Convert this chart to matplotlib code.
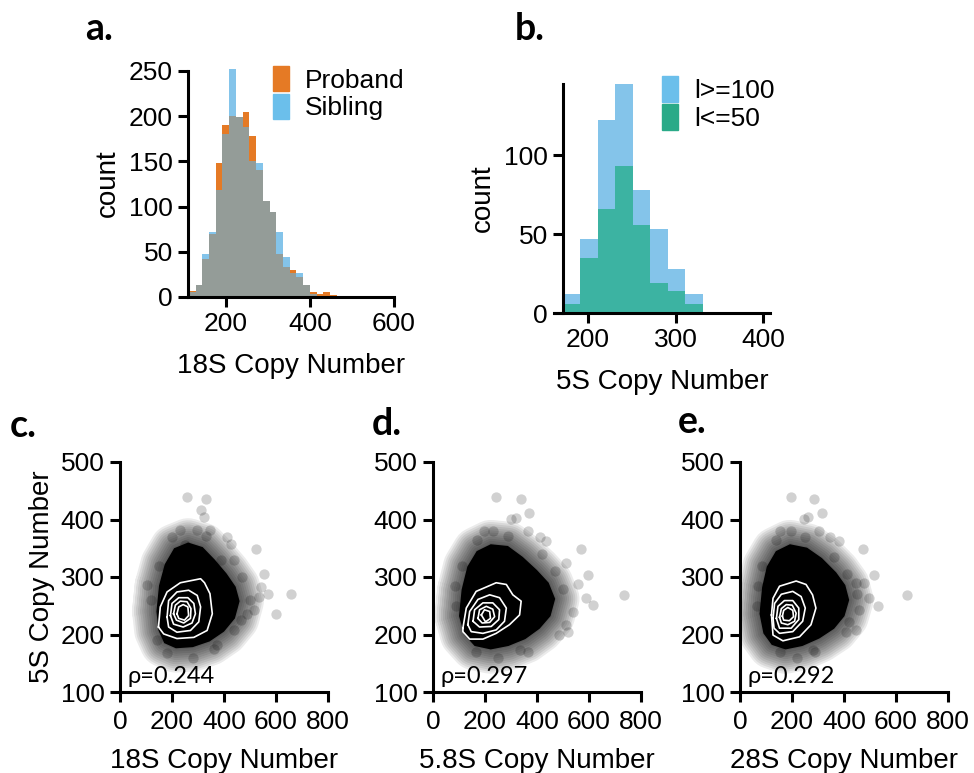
import numpy as np
import matplotlib
matplotlib.use("Agg")
import matplotlib.pyplot as plt
from matplotlib.patches import Patch

plt.rcParams['font.family'] = ['Liberation Sans', 'DejaVu Sans']

W, H = 974, 773

# ---- panel a: 18S copy number histogram ----
a_edges = [112 + 16 * i for i in range(22)]
a_width = 16
proband = [7, 13, 42, 70, 148, 190, 200, 199, 205, 178, 140, 106, 94, 48, 33, 30, 22, 13, 6, 3, 6, 2]
sibling = [5, 13, 48, 72, 118, 180, 252, 199, 188, 150, 148, 106, 94, 72, 44, 26, 26, 13, 3, 1, 0, 0]

# ---- panel b: 5S copy number histogram ----
b_edges = [171 + 20 * i for i in range(8)]
b_width = 20
l_hi = [12, 47, 122, 145, 78, 53, 28, 12]   # l>=100
l_lo = [6, 35, 66, 93, 56, 19, 14, 6]       # l<=50

# ---- panels c-e: 5S vs 18S / 5.8S / 28S ----
x_labels = ['18S Copy Number', '5.8S Copy Number', '28S Copy Number']
rhos = ['ρ=0.244', 'ρ=0.297', 'ρ=0.292']

# dense core outline (x, y)
core_c = [(140, 240), (150, 285), (172, 322), (208, 350), (262, 360), (318, 352), (365, 330),
          (410, 306), (445, 283), (460, 258), (442, 228), (400, 205), (345, 188), (280, 178),
          (215, 176), (170, 185), (148, 207)]
core_d = [(100, 232), (110, 278), (132, 318), (168, 345), (222, 357), (288, 354), (345, 335),
          (400, 312), (445, 290), (470, 262), (452, 232), (410, 210), (355, 192), (290, 180),
          (222, 174), (160, 180), (120, 200)]
core_e = [(75, 236), (85, 282), (103, 318), (138, 345), (192, 357), (258, 351), (315, 333),
          (370, 308), (405, 286), (420, 260), (402, 232), (362, 210), (305, 193), (240, 180),
          (175, 174), (122, 182), (90, 202)]

# sparse points outside the core
pts_c = [(258, 439), (329, 436), (310, 416), (322, 404), (348, 381), (232, 381), (297, 381),
         (413, 370), (426, 358), (522, 349), (387, 329), (555, 306), (542, 283), (535, 265),
         (568, 271), (658, 271), (600, 236), (516, 242), (490, 236), (464, 225), (439, 207),
         (374, 181), (361, 175), (103, 286), (142, 190), (181, 167), (280, 160), (250, 355),
         (440, 330), (470, 300), (500, 260), (120, 260), (150, 320), (200, 370), (330, 372)]
pts_d = [(243, 439), (339, 436), (369, 412), (301, 401), (320, 402), (198, 380), (230, 380),
         (365, 380), (410, 369), (435, 363), (570, 348), (512, 325), (557, 287), (595, 304),
         (589, 263), (614, 252), (736, 269), (538, 240), (512, 217), (518, 205), (486, 199),
         (333, 173), (365, 170), (83, 284), (166, 170), (250, 160), (420, 340), (470, 310),
         (500, 280), (90, 250), (110, 320), (170, 365), (290, 372)]
pts_e = [(197, 439), (286, 436), (315, 412), (248, 401), (260, 404), (152, 380), (197, 380),
         (305, 380), (345, 369), (381, 363), (472, 348), (445, 290), (476, 290), (514, 304),
         (495, 263), (532, 249), (641, 269), (457, 242), (419, 222), (445, 208), (406, 205),
         (279, 173), (289, 170), (70, 284), (152, 170), (220, 160), (360, 335), (410, 305),
         (450, 270), (65, 250), (85, 320), (140, 365), (250, 370)]

# white density contours
cont_c = [
    [(148, 213), (155, 248), (181, 274), (232, 290), (310, 297), (325, 290), (346, 271),
     (355, 236), (335, 207), (284, 195), (219, 193), (168, 201)],
    [(181, 230), (187, 259), (219, 274), (264, 277), (297, 268), (310, 248), (303, 222),
     (271, 207), (219, 204), (187, 213)],
    [(194, 233), (200, 254), (226, 264), (261, 264), (284, 254), (290, 236), (277, 220),
     (243, 213), (206, 218)],
    [(206, 236), (213, 251), (232, 258), (258, 257), (273, 245), (271, 228), (245, 220),
     (217, 225)],
    [(219, 236), (226, 248), (243, 252), (261, 248), (264, 233), (248, 225), (226, 228)],
]
cont_d = [
    [(115, 211), (128, 246), (166, 275), (243, 290), (282, 287), (307, 269), (339, 258),
     (333, 234), (294, 217), (243, 202), (192, 192), (141, 192), (115, 205)],
    [(134, 217), (141, 240), (173, 261), (218, 269), (256, 264), (282, 246), (275, 223),
     (243, 208), (192, 202), (147, 205)],
    [(154, 223), (160, 243), (192, 255), (230, 255), (256, 243), (253, 226), (224, 214),
     (179, 213)],
    [(173, 228), (179, 243), (205, 249), (230, 244), (237, 231), (218, 221), (189, 220)],
    [(186, 234), (198, 243), (218, 240), (221, 228), (202, 222)],
]
cont_e = [
    [(121, 234), (127, 263), (152, 284), (216, 293), (254, 287), (279, 269), (292, 246),
     (273, 217), (229, 196), (165, 189), (127, 199)],
    [(127, 228), (133, 254), (159, 270), (203, 275), (235, 266), (251, 246), (241, 223),
     (203, 205), (152, 202), (131, 211)],
    [(140, 228), (146, 249), (171, 259), (203, 259), (226, 246), (226, 226), (197, 211),
     (152, 211)],
    [(152, 230), (159, 245), (178, 252), (201, 251), (216, 237), (210, 223), (184, 217),
     (159, 220)],
    [(163, 232), (168, 242), (184, 247), (203, 242), (206, 231), (190, 224), (168, 225)],
]

ORANGE = '#E57A25'
BLUE = '#84C4EA'
GRAY = '#949C98'
TEAL = '#3CB3A2'
TEAL_LEG = '#2AAA88'
BLUE_LEG = '#6BBFEB'

TICK = 19
LABEL = 20


def rect(l, r, top, bot):
    return [l / W, 1 - bot / H, (r - l) / W, (bot - top) / H]


def style(ax):
    for s in ['top', 'right']:
        ax.spines[s].set_visible(False)
    for s in ['left', 'bottom']:
        ax.spines[s].set_linewidth(2.2)
    ax.tick_params(direction='out', length=7, width=2.2, labelsize=TICK, pad=4)


fig = plt.figure(figsize=(W / 100, H / 100), dpi=100)

# panel a
ax = fig.add_axes(rect(188, 394, 69, 297))
ax.bar(a_edges, proband, width=a_width, align='edge', color=ORANGE, lw=0)
ax.bar(a_edges, sibling, width=a_width, align='edge', color=BLUE, lw=0)
ax.bar(a_edges, np.minimum(proband, sibling), width=a_width, align='edge', color=GRAY, lw=0)
ax.set_xlim(110, 600)
ax.set_ylim(0, 252)
ax.set_xticks([200, 400, 600])
ax.set_yticks([0, 50, 100, 150, 200, 250])
ax.spines['left'].set_bounds(0, 250)
style(ax)
ax.set_xlabel('18S Copy Number', fontsize=LABEL, labelpad=12)
ax.set_ylabel('count', fontsize=LABEL, labelpad=6)
ax.legend(handles=[Patch(color=ORANGE, label='Proband'), Patch(color=BLUE_LEG, label='Sibling')],
          frameon=False, fontsize=19, loc='upper right', bbox_to_anchor=(1.10, 1.06),
          handlelength=0.6, handleheight=1.1, handletextpad=0.6, labelspacing=0.05,
          borderaxespad=0)

# panel b
ax = fig.add_axes(rect(554, 770, 84, 313))
ax.bar(b_edges, l_hi, width=b_width, align='edge', color=BLUE, lw=0)
ax.bar(b_edges, l_lo, width=b_width, align='edge', color=TEAL, lw=0)
ax.set_xlim(161, 408)
ax.set_ylim(0, 145)
ax.set_xticks([200, 300, 400])
ax.set_yticks([0, 50, 100])
ax.spines['left'].set_position(('data', 171.5))
style(ax)
ax.set_xlabel('5S Copy Number', fontsize=LABEL, labelpad=12)
ax.set_ylabel('count', fontsize=LABEL, labelpad=6)
ax.legend(handles=[Patch(color=BLUE_LEG, label='l>=100'), Patch(color=TEAL_LEG, label='l<=50')],
          frameon=False, fontsize=19, loc='upper right', bbox_to_anchor=(1.07, 1.08),
          handlelength=0.6, handleheight=1.1, handletextpad=0.6, labelspacing=0.05,
          borderaxespad=0)

# panels c-e
lefts = [120, 433, 740]
cores = [core_c, core_d, core_e]
points = [pts_c, pts_d, pts_e]
conts = [cont_c, cont_d, cont_e]
for i in range(3):
    ax = fig.add_axes(rect(lefts[i], lefts[i] + 208, 462, 692))
    cx = [p[0] for p in cores[i]] + [cores[i][0][0], cores[i][1][0]]
    cy = [p[1] for p in cores[i]] + [cores[i][0][1], cores[i][1][1]]
    # soft edge of the dense cloud
    for k in range(12):
        ax.plot(cx, cy, color='k', lw=2 + 3 * k, alpha=0.08, solid_joinstyle='round',
                solid_capstyle='round', zorder=1)
    ax.fill(cx, cy, color='k', lw=0, zorder=2)
    ax.scatter([p[0] for p in points[i]], [p[1] for p in points[i]], s=55, color='k',
               alpha=0.18, lw=0, zorder=1)
    for c in conts[i]:
        ax.plot([p[0] for p in c] + [c[0][0]], [p[1] for p in c] + [c[0][1]],
                color='white', lw=1.2, zorder=3)
    ax.set_xlim(0, 800)
    ax.set_ylim(100, 500)
    ax.set_xticks([0, 200, 400, 600, 800])
    ax.set_yticks([100, 200, 300, 400, 500])
    style(ax)
    ax.tick_params(axis='x', pad=6)
    ax.set_xlabel(x_labels[i], fontsize=LABEL, labelpad=10)
    if i == 0:
        ax.set_ylabel('5S Copy Number', fontsize=LABEL, labelpad=4)
    ax.text(30, 116, rhos[i], fontsize=17, family=['Lato', 'DejaVu Sans'], va='baseline', zorder=4)

# panel letters
for lab, x, y in [('a.', 85, 40), ('b.', 515, 40), ('c.', 10, 437), ('d.', 372, 435), ('e.', 678, 433)]:
    fig.text(x / W, 1 - y / H, lab, fontsize=27, fontweight='bold', family=['Lato', 'DejaVu Sans'],
             va='baseline')

fig.savefig('out.png', dpi=100)
